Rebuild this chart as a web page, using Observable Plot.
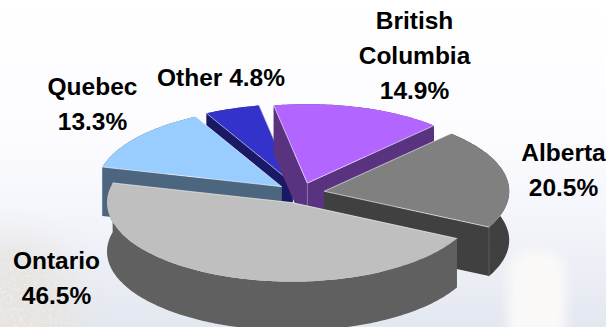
<!DOCTYPE html>
<html>
<head>
<meta charset="utf-8">
<script src="https://cdn.jsdelivr.net/npm/d3@7"></script>
<script src="https://cdn.jsdelivr.net/npm/@observablehq/plot@0.6"></script>
<style>
  html, body { margin: 0; padding: 0; }
  #stage {
    position: relative; width: 606px; height: 327px; overflow: hidden;
    background: linear-gradient(to bottom, #ffffff 0, #fcfcff 130px, #f5f6fc 210px, #e3e7ef 327px);
  }
  /* Soft backdrop shapes behind the pie: a pale tower on the right, a speckled glow on the left. */
  .tower {
    position: absolute; left: 508px; top: 250px; width: 58px; height: 110px;
    background: #faf9f8; border-radius: 24px 24px 0 0; filter: blur(6px);
  }
  .glow {
    position: absolute; left: -50px; top: 240px; width: 125px; height: 130px;
    background: #e7e4e1; border-radius: 50%; filter: blur(18px);
  }
  .grain {
    position: absolute; left: 0; top: 205px; width: 90px; height: 122px; opacity: .35;
    -webkit-mask-image: radial-gradient(ellipse 80px 85px at 15px 105px, #000 35%, transparent 100%);
    mask-image: radial-gradient(ellipse 80px 85px at 15px 105px, #000 35%, transparent 100%);
  }
</style>
</head>
<body>
<div id="stage">
  <div class="glow"></div>
  <div class="tower"></div>
  <svg class="grain" width="90" height="122">
    <filter id="specks">
      <feTurbulence type="fractalNoise" baseFrequency="0.3" numOctaves="2" seed="4"/>
      <feColorMatrix values="0 0 0 0 1  0 0 0 0 1  0 0 0 0 1  0 0 0 6 -3.4"/>
    </filter>
    <rect width="90" height="122" filter="url(#specks)"/>
  </svg>
</div>
<script>
// Share of the total by province, clockwise from the front-right edge of the pie.
const categories = ["Ontario", "Quebec", "Other", "British Columbia", "Alberta"];
const shares = [46.5, 13.3, 4.8, 14.9, 20.5];
const topColors = ["#bfbfbf", "#99ccff", "#3333cc", "#b266ff", "#808080"];
const sideColors = ["#606060", "#4d6680", "#191966", "#59337f", "#404040"];
const labels = ["Ontario\n46.5%", "Quebec\n13.3%", "Other 4.8%", "British\nColumbia\n14.9%", "Alberta\n20.5%"];
const labelX = [56, 92, 220.5, 414, 563];
const labelBaseline = [303, 129, 85, 98, 195];

// Tilted-pie projection, in chart units.
const centre = [300, 192.5], rx = 185, ry = 79, depth = 49, explode = 0.13, startAngle = 27;

const rad = (d) => (d * Math.PI) / 180;
const cum = d3.cumsum(shares);
const slices = categories.map((name, i) => {
  const a0 = startAngle + 3.6 * (i ? cum[i - 1] : 0);
  const a1 = startAngle + 3.6 * cum[i];
  const mid = rad((a0 + a1) / 2);
  const apex = [centre[0] + explode * rx * Math.cos(mid), centre[1] + explode * ry * Math.sin(mid)];
  const steps = Math.ceil(a1 - a0);
  const arc = d3.range(steps + 1).map((k) => {
    const t = rad(a0 + ((a1 - a0) * k) / steps);
    return [apex[0] + rx * Math.cos(t), apex[1] + ry * Math.sin(t)];
  });
  return { name, i, apex, arc };
});

const down = ([x, y]) => [x, y + depth];
const poly = (id, pts, color) => pts.map(([x, y]) => ({ id, x, y, color }));

// Each slice draws walls, then its lit top, then thin highlights on the radial edges.
// Ontario comes last because it sits closest to the viewer.
const order = [2, 3, 1, 4, 0];
const sliceMarks = order.flatMap((s) => {
  const { i, apex, arc } = slices[s];
  const first = arc[0], last = arc[arc.length - 1];
  const rows = [
    ...poly("a", [apex, first, down(first), down(apex)], sideColors[i]),
    ...poly("b", [apex, last, down(last), down(apex)], sideColors[i]),
    ...poly("c", [...arc, ...arc.slice().reverse().map(down)], sideColors[i]),
    ...poly("d", [apex, ...arc], topColors[i])
  ];
  const marks = [
    Plot.line(rows, { x: "x", y: "y", z: "id", fill: "color", stroke: null, curve: "linear-closed" }),
    Plot.line(poly("e", [first, apex, last], "#fff"), { x: "x", y: "y", stroke: "color", strokeOpacity: 0.75, strokeWidth: 0.8 })
  ];
  // Wall corners that catch the light: the tip of British Columbia and the front of Alberta.
  if (i === 3) marks.push(Plot.line(poly("f", [apex, down(apex)], "#9a7fc0"), { x: "x", y: "y", stroke: "color", strokeOpacity: 0.7, strokeWidth: 0.8 }));
  if (i === 4) marks.push(Plot.line(poly("f", [last, down(last)], "#707070"), { x: "x", y: "y", stroke: "color", strokeOpacity: 0.7, strokeWidth: 0.8 }));
  return marks;
});

const plot = Plot.plot({
  width: 606,
  height: 327,
  margin: 0,
  x: { domain: [0, 606], range: [0, 606], axis: null },
  y: { domain: [0, 327], range: [0, 327], axis: null },
  style: { background: "transparent", position: "relative" },
  marks: [
    ...sliceMarks,
    Plot.text(labels, {
      x: (_, i) => labelX[i],
      y: (_, i) => labelBaseline[i],
      text: (d) => d,
      fontFamily: "Liberation Sans",
      fontWeight: "bold",
      fontSize: 24.5,
      lineHeight: 1.42,
      lineAnchor: "bottom",
      fill: "#000",
      textAnchor: "middle"
    })
  ]
});
document.getElementById("stage").append(plot);
</script>
</body>
</html>
